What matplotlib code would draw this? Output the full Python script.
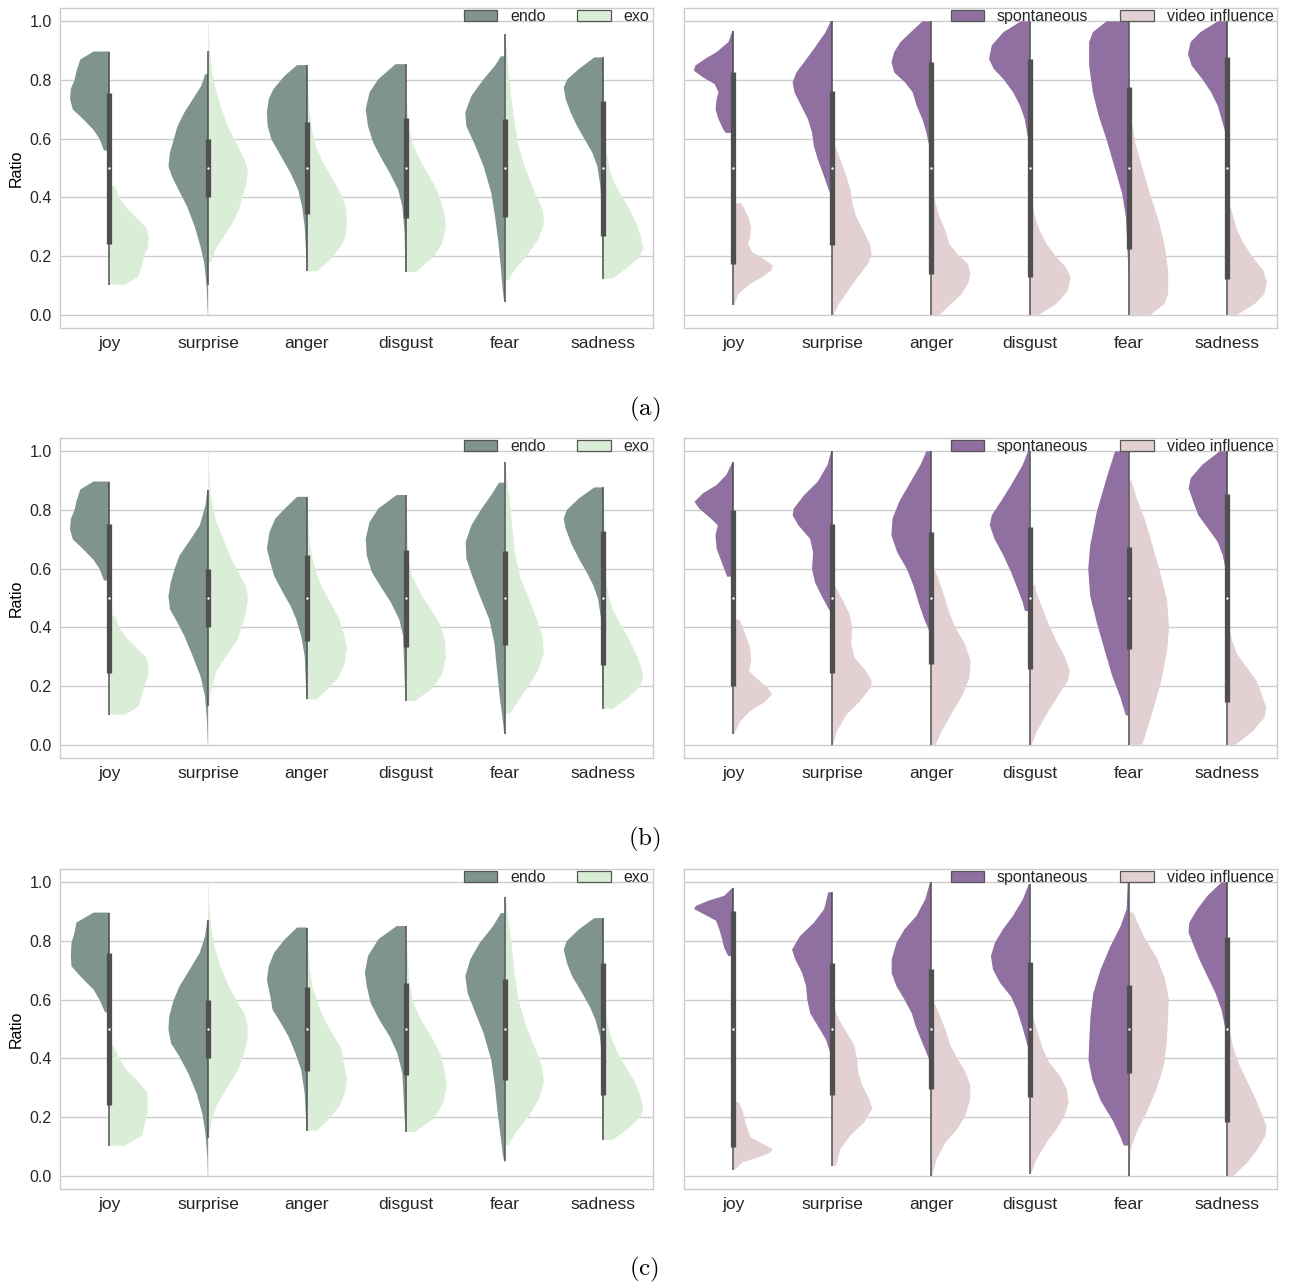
import numpy as np
import matplotlib
matplotlib.use("Agg")
import matplotlib.pyplot as plt
from matplotlib.patches import Patch

# categories and labels
emotions = ["joy", "surprise", "anger", "disgust", "fear", "sadness"]
left_labels = ["endo", "exo"]
right_labels = ["spontaneous", "video influence"]
captions = ["(a)", "(b)", "(c)"]

# violin outlines: y levels and half widths of the upper (endo / spontaneous) half,
# the lower half is the same data mirrored (ratio -> 1 - ratio)
a_endo_y = [[0.56, 0.60, 0.63, 0.67, 0.70, 0.735, 0.77, 0.80, 0.83, 0.87, 0.897],
            [0.0, 0.095, 0.175, 0.232, 0.30, 0.369, 0.426, 0.472, 0.506, 0.552, 0.598, 0.643, 0.69, 0.735, 0.78, 0.82],
            [0.15, 0.23, 0.30, 0.369, 0.426, 0.483, 0.54, 0.598, 0.643, 0.69, 0.735, 0.769, 0.815, 0.851],
            [0.146, 0.278, 0.369, 0.426, 0.483, 0.54, 0.586, 0.643, 0.70, 0.758, 0.803, 0.854],
            [0.043, 0.083, 0.163, 0.255, 0.335, 0.415, 0.506, 0.586, 0.643, 0.69, 0.746, 0.803, 0.849, 0.881],
            [0.123, 0.346, 0.438, 0.506, 0.552, 0.598, 0.643, 0.69, 0.735, 0.775, 0.803, 0.838, 0.877]]
a_endo_w = [[0.054, 0.10, 0.16, 0.275, 0.37, 0.398, 0.39, 0.352, 0.333, 0.294, 0.16],
            [0.004, 0.015, 0.039, 0.077, 0.135, 0.213, 0.30, 0.367, 0.402, 0.387, 0.348, 0.31, 0.24, 0.155, 0.07, 0.03],
            [0.004, 0.012, 0.023, 0.05, 0.089, 0.166, 0.263, 0.36, 0.398, 0.406, 0.387, 0.34, 0.224, 0.10],
            [0.004, 0.012, 0.035, 0.077, 0.162, 0.259, 0.329, 0.383, 0.406, 0.367, 0.278, 0.104],
            [0.004, 0.019, 0.039, 0.066, 0.097, 0.135, 0.213, 0.309, 0.387, 0.398, 0.336, 0.213, 0.097, 0.039],
            [0.004, 0.012, 0.031, 0.062, 0.112, 0.19, 0.267, 0.333, 0.383, 0.402, 0.364, 0.247, 0.093]]
a_endo_q3 = [0.757, 0.60, 0.656, 0.671, 0.666, 0.73]
a_endo_whis = [0.897, 0.90, 0.851, 0.854, 0.957, 0.877]

a_spon_y = [[0.62, 0.632, 0.666, 0.70, 0.735, 0.758, 0.786, 0.809, 0.832, 0.849, 0.872, 0.895, 0.929, 0.967],
            [0.40, 0.437, 0.483, 0.529, 0.575, 0.621, 0.666, 0.712, 0.758, 0.792, 0.826, 0.861, 0.906, 0.963, 1.0],
            [0.55, 0.58, 0.621, 0.666, 0.712, 0.758, 0.792, 0.826, 0.861, 0.895, 0.929, 0.963, 1.0],
            [0.58, 0.621, 0.666, 0.712, 0.758, 0.803, 0.838, 0.872, 0.918, 0.963, 1.0],
            [0.16, 0.255, 0.335, 0.415, 0.506, 0.598, 0.678, 0.758, 0.849, 0.929, 0.963, 1.0],
            [0.60, 0.621, 0.666, 0.712, 0.758, 0.803, 0.849, 0.889, 0.929, 0.963, 1.0]]
a_spon_w = [[0.079, 0.102, 0.15, 0.18, 0.169, 0.15, 0.189, 0.307, 0.40, 0.385, 0.287, 0.17, 0.05, 0.01],
            [0.004, 0.047, 0.094, 0.145, 0.185, 0.204, 0.244, 0.314, 0.381, 0.40, 0.362, 0.283, 0.185, 0.067, 0.016],
            [0.004, 0.02, 0.047, 0.086, 0.145, 0.185, 0.263, 0.373, 0.40, 0.373, 0.31, 0.204, 0.086],
            [0.004, 0.028, 0.051, 0.098, 0.169, 0.267, 0.366, 0.413, 0.385, 0.267, 0.09],
            [0.004, 0.016, 0.028, 0.067, 0.145, 0.224, 0.303, 0.362, 0.40, 0.40, 0.362, 0.224],
            [0.004, 0.02, 0.059, 0.098, 0.165, 0.255, 0.362, 0.40, 0.373, 0.275, 0.098]]
a_spon_q3 = [0.828, 0.763, 0.862, 0.871, 0.775, 0.877]
a_spon_whis = [0.967, 1.0, 1.0, 1.0, 1.0, 1.0]

b_endo_y = [[0.56, 0.60, 0.63, 0.67, 0.70, 0.735, 0.77, 0.80, 0.83, 0.87, 0.897],
            [0.0, 0.084, 0.164, 0.233, 0.301, 0.37, 0.416, 0.462, 0.507, 0.553, 0.599, 0.645, 0.702, 0.748, 0.817, 0.868],
            [0.155, 0.301, 0.37, 0.427, 0.473, 0.519, 0.576, 0.622, 0.668, 0.725, 0.771, 0.805, 0.845],
            [0.15, 0.37, 0.427, 0.485, 0.542, 0.588, 0.645, 0.702, 0.759, 0.805, 0.851],
            [0.038, 0.084, 0.164, 0.255, 0.347, 0.427, 0.507, 0.576, 0.634, 0.691, 0.748, 0.805, 0.851, 0.893],
            [0.123, 0.427, 0.496, 0.542, 0.588, 0.633, 0.685, 0.737, 0.771, 0.80, 0.84, 0.877]]
b_endo_w = [[0.054, 0.10, 0.16, 0.275, 0.37, 0.398, 0.39, 0.352, 0.333, 0.294, 0.16],
            [0.004, 0.012, 0.031, 0.077, 0.155, 0.24, 0.31, 0.387, 0.402, 0.379, 0.34, 0.29, 0.174, 0.085, 0.027, 0.008],
            [0.004, 0.023, 0.058, 0.108, 0.166, 0.244, 0.333, 0.371, 0.406, 0.379, 0.32, 0.224, 0.10],
            [0.004, 0.027, 0.066, 0.151, 0.259, 0.344, 0.395, 0.406, 0.367, 0.278, 0.093],
            [0.004, 0.019, 0.05, 0.077, 0.104, 0.155, 0.251, 0.329, 0.387, 0.394, 0.336, 0.232, 0.135, 0.058],
            [0.004, 0.023, 0.054, 0.101, 0.17, 0.247, 0.325, 0.383, 0.402, 0.371, 0.247, 0.093]]
b_endo_q3 = [0.754, 0.60, 0.647, 0.665, 0.659, 0.727]
b_endo_whis = [0.897, 0.868, 0.845, 0.851, 0.962, 0.877]

b_spon_y = [[0.573, 0.622, 0.668, 0.714, 0.748, 0.771, 0.805, 0.828, 0.857, 0.885, 0.92, 0.962],
            [0.458, 0.507, 0.553, 0.599, 0.656, 0.702, 0.748, 0.782, 0.805, 0.851, 0.897, 0.954, 1.0],
            [0.39, 0.427, 0.485, 0.542, 0.599, 0.656, 0.714, 0.771, 0.828, 0.897, 0.954, 1.0],
            [0.456, 0.485, 0.53, 0.588, 0.645, 0.702, 0.748, 0.782, 0.828, 0.885, 0.954, 1.0],
            [0.10, 0.164, 0.233, 0.324, 0.416, 0.507, 0.599, 0.679, 0.794, 0.908, 1.0],
            [0.60, 0.645, 0.691, 0.737, 0.782, 0.828, 0.874, 0.908, 0.954, 1.0]]
b_spon_w = [[0.063, 0.118, 0.169, 0.181, 0.157, 0.228, 0.346, 0.393, 0.307, 0.17, 0.07, 0.01],
            [0.028, 0.106, 0.173, 0.204, 0.193, 0.224, 0.342, 0.40, 0.389, 0.283, 0.145, 0.047, 0.01],
            [0.02, 0.067, 0.126, 0.177, 0.244, 0.342, 0.401, 0.389, 0.322, 0.204, 0.106, 0.047],
            [0.05, 0.071, 0.122, 0.189, 0.267, 0.358, 0.405, 0.385, 0.295, 0.189, 0.071, 0.02],
            [0.028, 0.086, 0.165, 0.244, 0.322, 0.389, 0.409, 0.389, 0.322, 0.224, 0.138],
            [0.02, 0.047, 0.098, 0.197, 0.295, 0.346, 0.393, 0.373, 0.255, 0.079]]
b_spon_q3 = [0.80, 0.754, 0.725, 0.742, 0.673, 0.853]
b_spon_whis = [0.962, 1.0, 1.0, 1.0, 1.0, 1.0]

c_endo_y = [[0.557, 0.60, 0.634, 0.68, 0.714, 0.749, 0.794, 0.829, 0.863, 0.897],
            [0.0, 0.063, 0.143, 0.211, 0.28, 0.349, 0.406, 0.451, 0.497, 0.543, 0.60, 0.646, 0.703, 0.76, 0.817, 0.871],
            [0.155, 0.28, 0.36, 0.417, 0.474, 0.52, 0.566, 0.611, 0.669, 0.714, 0.76, 0.806, 0.846],
            [0.15, 0.349, 0.417, 0.474, 0.531, 0.589, 0.646, 0.691, 0.749, 0.806, 0.851],
            [0.046, 0.074, 0.131, 0.211, 0.303, 0.394, 0.486, 0.566, 0.623, 0.68, 0.737, 0.794, 0.851, 0.895],
            [0.122, 0.394, 0.474, 0.531, 0.577, 0.623, 0.68, 0.726, 0.771, 0.80, 0.84, 0.878]]
c_endo_w = [[0.043, 0.10, 0.159, 0.294, 0.383, 0.39, 0.383, 0.352, 0.333, 0.159],
            [0.004, 0.008, 0.027, 0.058, 0.116, 0.201, 0.29, 0.375, 0.402, 0.394, 0.348, 0.29, 0.186, 0.085, 0.031, 0.008],
            [0.004, 0.023, 0.058, 0.116, 0.186, 0.263, 0.348, 0.371, 0.406, 0.387, 0.333, 0.224, 0.10],
            [0.004, 0.035, 0.085, 0.162, 0.267, 0.356, 0.395, 0.414, 0.383, 0.278, 0.093],
            [0.004, 0.019, 0.039, 0.07, 0.097, 0.135, 0.213, 0.309, 0.375, 0.398, 0.348, 0.251, 0.116, 0.039],
            [0.004, 0.015, 0.035, 0.081, 0.139, 0.216, 0.317, 0.371, 0.402, 0.371, 0.247, 0.093]]
c_endo_q3 = [0.758, 0.598, 0.642, 0.657, 0.672, 0.725]
c_endo_whis = [0.897, 0.871, 0.846, 0.851, 0.951, 0.878]

c_spon_y = [[0.749, 0.777, 0.806, 0.84, 0.869, 0.891, 0.909, 0.92, 0.937, 0.954, 0.981],
            [0.42, 0.463, 0.509, 0.554, 0.60, 0.646, 0.691, 0.737, 0.771, 0.817, 0.863, 0.909, 0.966],
            [0.39, 0.451, 0.509, 0.554, 0.60, 0.646, 0.691, 0.737, 0.794, 0.84, 0.886, 0.943, 1.0],
            [0.44, 0.509, 0.566, 0.611, 0.657, 0.703, 0.749, 0.794, 0.84, 0.886, 0.943, 0.994],
            [0.103, 0.131, 0.189, 0.257, 0.326, 0.394, 0.463, 0.543, 0.623, 0.703, 0.783, 0.851, 0.909, 1.0],
            [0.50, 0.566, 0.623, 0.68, 0.737, 0.794, 0.829, 0.863, 0.909, 0.954, 1.0]]
c_spon_w = [[0.053, 0.093, 0.114, 0.142, 0.175, 0.296, 0.398, 0.377, 0.256, 0.093, 0.01],
            [0.02, 0.061, 0.142, 0.223, 0.252, 0.264, 0.304, 0.373, 0.406, 0.325, 0.183, 0.081, 0.04],
            [0.01, 0.085, 0.154, 0.195, 0.268, 0.349, 0.398, 0.398, 0.349, 0.268, 0.146, 0.057, 0.01],
            [0.02, 0.077, 0.13, 0.191, 0.30, 0.373, 0.394, 0.353, 0.272, 0.17, 0.069, 0.01],
            [0.049, 0.081, 0.162, 0.284, 0.365, 0.406, 0.398, 0.386, 0.357, 0.284, 0.183, 0.081, 0.02, 0.01],
            [0.02, 0.061, 0.122, 0.203, 0.284, 0.353, 0.394, 0.386, 0.304, 0.203, 0.06]]
c_spon_q3 = [0.902, 0.726, 0.705, 0.73, 0.65, 0.815]
c_spon_whis = [0.981, 0.966, 1.0, 0.994, 1.0, 1.0]

# colours
endo_col, exo_col = "#80948f", "#daedd7"
spon_col, video_col = "#8f70a0", "#e3d0d2"
box_gray = "#4f4f4f"

plt.rcParams["font.family"] = ["Liberation Sans", "DejaVu Sans"]
plt.rcParams["mathtext.fontset"] = "cm"
plt.rcParams["text.color"] = "#262626"
plt.rcParams["xtick.color"] = "#262626"
plt.rcParams["ytick.color"] = "#262626"


def draw_panel(ax, ys, ws, q3s, whis, c_hi, c_lo, labels, show_y):
    for i in range(len(emotions)):
        y = np.asarray(ys[i])
        w = np.asarray(ws[i])
        # upper half on the left, mirrored lower half on the right
        ax.fill(np.r_[i, i - w, i], np.r_[y[0], y, y[-1]], color=c_hi, lw=0, zorder=2)
        ax.fill(np.r_[i, i + w, i], np.r_[1 - y[0], 1 - y, 1 - y[-1]], color=c_lo, lw=0, zorder=2)
        # inner box
        ax.plot([i, i], [1 - whis[i], whis[i]], color=box_gray, lw=1.1,
                solid_capstyle="butt", zorder=3)
        ax.plot([i, i], [1 - q3s[i], q3s[i]], color=box_gray, lw=3.8,
                solid_capstyle="butt", zorder=3)
        ax.scatter([i], [0.5], s=3, color="white", lw=0, zorder=4)

    ax.set_xlim(-0.5, len(emotions) - 0.5)
    ax.set_ylim(-0.045, 1.045)
    ax.set_xticks(range(len(emotions)))
    ax.set_xticklabels(emotions, fontsize=12.5)
    ax.set_yticks([0.0, 0.2, 0.4, 0.6, 0.8, 1.0])
    ax.set_yticklabels(["0.0", "0.2", "0.4", "0.6", "0.8", "1.0"], fontsize=11.5)
    ax.tick_params(length=0, axis="x", pad=6)
    ax.tick_params(length=0, axis="y", pad=6, labelleft=show_y)
    ax.grid(axis="y", color="#cccccc", lw=1.0, zorder=0)
    ax.set_axisbelow(True)
    for sp in ax.spines.values():
        sp.set_color("#cccccc")
        sp.set_linewidth(1.0)
    if show_y:
        ax.set_ylabel("Ratio", fontsize=11.5, labelpad=4)

    handles = [Patch(facecolor=c_hi, edgecolor="#555555", lw=0.9),
               Patch(facecolor=c_lo, edgecolor="#555555", lw=0.9)]
    ax.legend(handles, labels, loc="upper right", ncol=2, frameon=False,
              fontsize=11.5, bbox_to_anchor=(1.005, 1.017), borderaxespad=0,
              handlelength=2.1, handleheight=0.75, columnspacing=2.0,
              handletextpad=0.8)


fig = plt.figure(figsize=(12.89, 12.87), dpi=100)

rows = [
    (a_endo_y, a_endo_w, a_endo_q3, a_endo_whis, a_spon_y, a_spon_w, a_spon_q3, a_spon_whis),
    (b_endo_y, b_endo_w, b_endo_q3, b_endo_whis, b_spon_y, b_spon_w, b_spon_q3, b_spon_whis),
    (c_endo_y, c_endo_w, c_endo_q3, c_endo_whis, c_spon_y, c_spon_w, c_spon_q3, c_spon_whis),
]
row_bottoms = [0.7451, 0.4110, 0.0761]
caption_y = [0.682, 0.348, 0.014]

for r, data in enumerate(rows):
    ax_l = fig.add_axes([0.0465, row_bottoms[r], 0.460, 0.2486])
    ax_r = fig.add_axes([0.5306, row_bottoms[r], 0.460, 0.2486])
    draw_panel(ax_l, *data[:4], endo_col, exo_col, left_labels, True)
    draw_panel(ax_r, *data[4:], spon_col, video_col, right_labels, False)
    fig.text(0.5, caption_y[r], r"$\mathrm{" + captions[r] + "}$", fontsize=18,
             ha="center", va="center", color="black")

fig.savefig("out.png", dpi=100)
